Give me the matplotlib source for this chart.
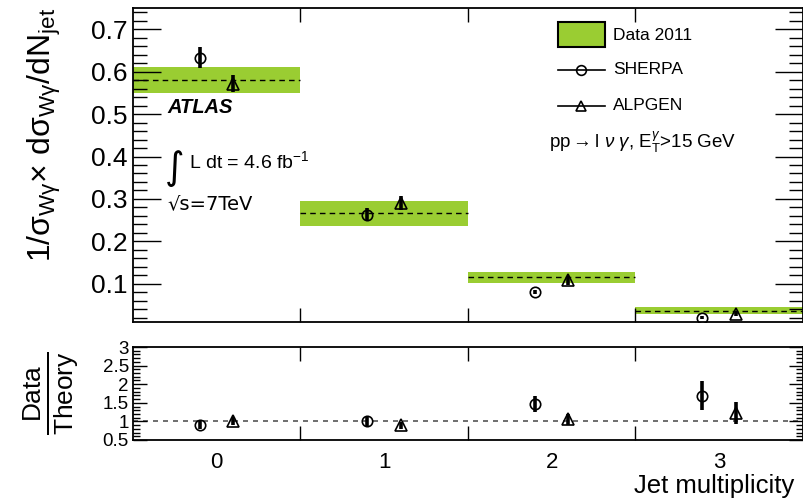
import matplotlib
matplotlib.use("Agg")
import matplotlib.pyplot as plt
from matplotlib.patches import Rectangle
from matplotlib.lines import Line2D
from matplotlib.ticker import MultipleLocator, FixedLocator, NullFormatter
import numpy as np

plt.rcParams['font.family'] = ['Liberation Sans', 'DejaVu Sans']
plt.rcParams['mathtext.fontset'] = 'custom'
plt.rcParams['mathtext.rm'] = 'Liberation Sans'
plt.rcParams['mathtext.it'] = 'Liberation Sans:italic'
plt.rcParams['mathtext.bf'] = 'Liberation Sans:bold'

# ---------------- data ----------------
njet = [0, 1, 2, 3]
data_val = [0.580, 0.266, 0.116, 0.037]
data_lo = [0.550, 0.236, 0.103, 0.029]
data_hi = [0.610, 0.295, 0.129, 0.045]

sherpa_val = [0.633, 0.263, 0.080, 0.020]
sherpa_err = [0.025, 0.015, 0.005, 0.003]
alpgen_val = [0.572, 0.290, 0.108, 0.028]
alpgen_err = [0.021, 0.016, 0.010, 0.005]

ratio_sherpa = [0.91, 1.00, 1.46, 1.69]
ratio_sherpa_err = [0.12, 0.12, 0.21, 0.39]
ratio_alpgen = [1.01, 0.89, 1.06, 1.22]
ratio_alpgen_err = [0.10, 0.10, 0.15, 0.30]

green = '#9ACD32'
offset = 0.1

W, H = 804, 501
fig = plt.figure(figsize=(W / 100, H / 100), dpi=100)

def axrect(x0, y0, x1, y1):
    return [x0 / W, 1 - y1 / H, (x1 - x0) / W, (y1 - y0) / H]

ax = fig.add_axes(axrect(133, 8, 803, 322))
axr = fig.add_axes(axrect(133, 347, 803, 440))

x = np.array(njet, dtype=float)
lo = np.array(data_lo)
hi = np.array(data_hi)

# ---------------- top panel ----------------
ax.bar(x, hi - lo, bottom=lo, width=1.0, color=green, edgecolor='none', zorder=1)
ax.hlines(data_val, x - 0.5, x + 0.5, colors='black', linestyles=(0, (4, 3)), linewidth=1.0, zorder=2)
ax.errorbar(x - offset, sherpa_val, yerr=sherpa_err, fmt='o', ms=7.5, mfc='none', mec='black',
            mew=1.2, ecolor='black', elinewidth=2.6, capsize=0, zorder=3)
ax.errorbar(x + offset, alpgen_val, yerr=alpgen_err, fmt='^', ms=8.5, mfc='none', mec='black',
            mew=1.2, ecolor='black', elinewidth=2.6, capsize=0, zorder=3)

ax.set_xlim(-0.5, 3.5)
ax.set_ylim(0.01, 0.75)
ax.yaxis.set_major_locator(FixedLocator([0.1, 0.2, 0.3, 0.4, 0.5, 0.6, 0.7]))
ax.yaxis.set_minor_locator(MultipleLocator(0.02))
ax.set_yticklabels(['0.1', '0.2', '0.3', '0.4', '0.5', '0.6', '0.7'])
ax.xaxis.set_major_locator(FixedLocator([0.5, 1.5, 2.5]))
ax.xaxis.set_major_formatter(NullFormatter())
ax.tick_params(axis='y', which='major', direction='in', length=20, width=1.0, left=True, right=True,
               labelsize=19, pad=4)
ax.tick_params(axis='y', which='minor', direction='in', length=10, width=1.0, left=True, right=True)
ax.tick_params(axis='x', which='major', direction='in', length=10, width=1.0, top=True, bottom=True)
for s in ax.spines.values():
    s.set_linewidth(1.3)

ax.set_ylabel(r'1/$\mathregular{\sigma_{W\gamma}}$$\times$ d$\mathregular{\sigma_{W\gamma}}$/dN$_{\mathregular{jet}}$',
              fontsize=23, loc='top', labelpad=20)

# annotations
ax.text(0.052, 0.665, 'ATLAS', transform=ax.transAxes, fontsize=14.5, fontweight='bold', style='italic')
ax.text(0.048, 0.455, '\u222b', transform=ax.transAxes, fontsize=27, family=['DejaVu Sans'])
ax.text(0.083, 0.49, r'L dt = 4.6 fb$^{\mathregular{-1}}$', transform=ax.transAxes, fontsize=14)
ax.text(0.052, 0.36, '\u221as=7TeV', transform=ax.transAxes, fontsize=14, family=['DejaVu Sans'])
ax.text(0.621, 0.555, r'pp$\rightarrow$l $\nu$ $\gamma$, E$_{\mathregular{T}}^{\gamma}$>15 GeV',
        transform=ax.transAxes, fontsize=13.5)

# legend (manual)
lx0, lx1 = (558 - 133) / 670, (605 - 133) / 670
def ya(py):
    return (322 - py) / 314
ax.add_patch(Rectangle((lx0, ya(47)), lx1 - lx0, ya(22) - ya(47), transform=ax.transAxes,
                       facecolor=green, edgecolor='black', linewidth=1.5, zorder=5))
ax.text((613 - 133) / 670, ya(35), 'Data 2011', transform=ax.transAxes, fontsize=12.5, va='center')
for py, mk, lab in [(70, 'o', 'SHERPA'), (106, '^', 'ALPGEN')]:
    ax.add_line(Line2D([lx0, lx1], [ya(py), ya(py)], transform=ax.transAxes, color='black', lw=1.2))
    ax.add_line(Line2D([(lx0 + lx1) / 2], [ya(py)], transform=ax.transAxes, marker=mk, ms=7,
                       mfc='none', mec='black', mew=1.2, color='black'))
    ax.text((613 - 133) / 670, ya(py), lab, transform=ax.transAxes, fontsize=12.5, va='center')

# ---------------- ratio panel ----------------
axr.axhline(1.0, color='#555555', linestyle=(0, (3, 3)), linewidth=1.2, zorder=1)
axr.errorbar(x - offset, ratio_sherpa, yerr=ratio_sherpa_err, fmt='o', ms=7.5, mfc='none', mec='black',
             mew=1.2, ecolor='black', elinewidth=2.6, capsize=0, zorder=3)
axr.errorbar(x + offset, ratio_alpgen, yerr=ratio_alpgen_err, fmt='^', ms=8.5, mfc='none', mec='black',
             mew=1.2, ecolor='black', elinewidth=2.6, capsize=0, zorder=3)
axr.set_xlim(-0.5, 3.5)
axr.set_ylim(0.5, 3.0)
axr.yaxis.set_minor_locator(MultipleLocator(0.1))
axr.set_yticks([0.5, 1, 1.5, 2, 2.5, 3])
axr.set_yticklabels(['0.5', '1', '1.5', '2', '2.5', '3'])
axr.set_xticks(njet)
axr.set_xticklabels([str(n) for n in njet])
axr.xaxis.set_minor_locator(FixedLocator([0.5, 1.5, 2.5]))
axr.tick_params(axis='x', which='major', length=0, labelsize=16, pad=9)
axr.tick_params(axis='x', which='minor', direction='in', length=10, width=1.0, top=True, bottom=True)
axr.tick_params(axis='y', which='major', direction='in', length=10, width=1.0, left=True, right=True,
                labelsize=13.5, pad=3)
axr.tick_params(axis='y', which='minor', direction='in', length=5, width=1.0, left=True, right=True)
for s in axr.spines.values():
    s.set_linewidth(1.3)

axr.set_ylabel(r'$\mathregular{\frac{Data}{Theory}}$', fontsize=27, labelpad=16)

fig.text(794 / W, 1 - 486 / H, 'Jet multiplicity', fontsize=18.5, ha='right', va='center')

fig.savefig('out.png', dpi=100)
